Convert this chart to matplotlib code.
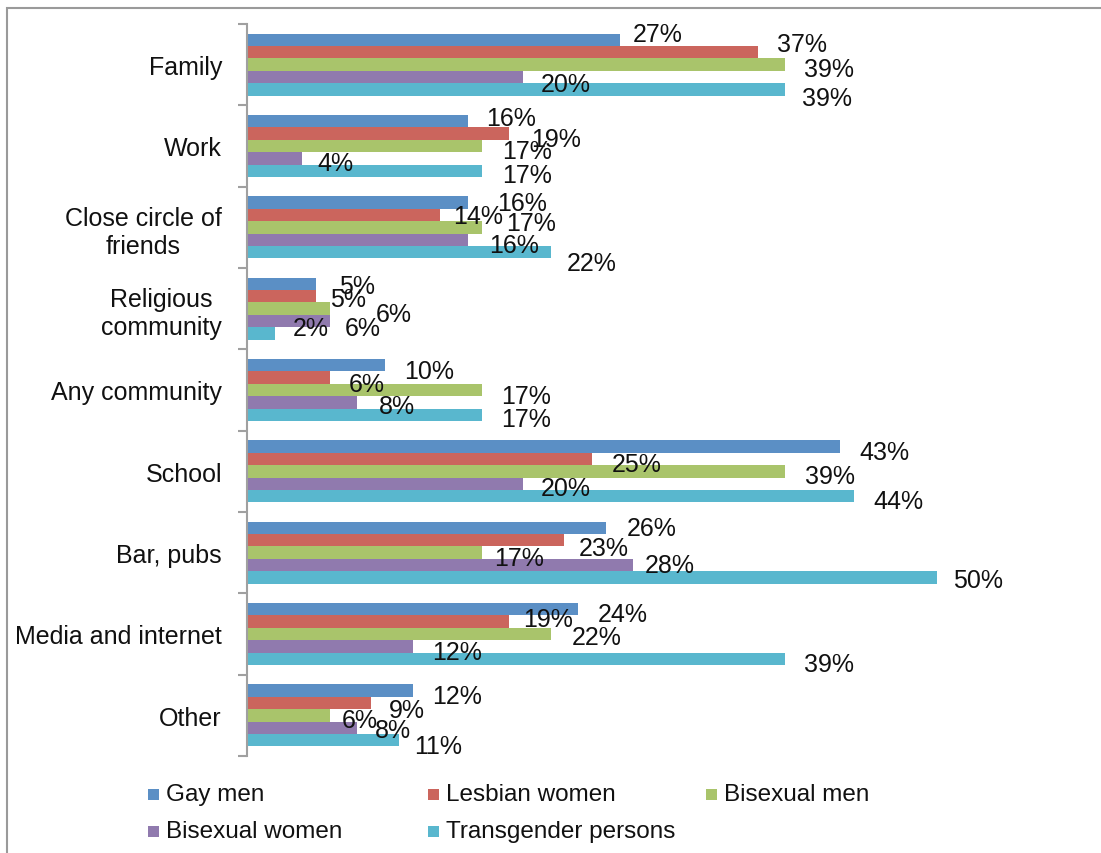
import matplotlib
matplotlib.use("Agg")
import matplotlib.pyplot as plt
from matplotlib.patches import Rectangle
import numpy as np

plt.rcParams["font.family"] = ["Liberation Sans", "DejaVu Sans"]

# ---- data -------------------------------------------------------------
categories = [
    "Family",
    "Work",
    "Close circle of\nfriends",
    "Religious\ncommunity",
    "Any community",
    "School",
    "Bar, pubs",
    "Media and internet",
    "Other",
]
series_names = ["Gay men", "Lesbian women", "Bisexual men",
                "Bisexual women", "Transgender persons"]

gay_men = [27, 16, 16, 5, 10, 43, 26, 24, 12]
lesbian_women = [37, 19, 14, 5, 6, 25, 23, 19, 9]
bisexual_men = [39, 17, 17, 6, 17, 39, 17, 22, 6]
bisexual_women = [20, 4, 16, 6, 8, 20, 28, 12, 8]
transgender_persons = [39, 17, 22, 2, 17, 44, 50, 39, 11]

series_values = [gay_men, lesbian_women, bisexual_men,
                 bisexual_women, transgender_persons]
colors = ["#5B8FC5", "#CB655D", "#A9C46B", "#907AAE", "#59B7CE"]

# ---- label placement (pixels: gap right of bar end, downward shift) ---
label_gap = [
    [13, 19, 19, 18, 17],
    [18, 22, 21, 15, 21],
    [29, 13, 25, 21, 16],
    [23, 14, 46, 15, 18],
    [19, 19, 20, 21, 20],
    [19, 20, 20, 18, 19],
    [21, 14, 13, 11, 16],
    [20, 14, 21, 20, 19],
    [20, 18, 12, 17, 15],
]
label_shift = [
    [-8, -10, 2, 4.5, 7],
    [-5, 3, 3, 2.5, 2],
    [-2, -1, -6.5, 3, 9],
    [0, 0.5, 3, 5, -7],
    [3.5, 4, 4, 2, 2],
    [3, 3.5, 3, 2.5, 3],
    [-2, 6, 3.5, -2.5, 1],
    [3, -4.5, 1.5, 4, 3],
    [3, 5.5, 3, 0, 3.5],
]

# ---- figure -----------------------------------------------------------
W, H = 1101, 854
fig = plt.figure(figsize=(W / 100, H / 100), dpi=100)
ax = fig.add_axes([247 / W, (H - 757) / H, 759 / W, 732 / H])

ypos = np.arange(len(categories))
bar_h = 0.152
for j, (vals, color) in enumerate(zip(series_values, colors)):
    y = ypos + (j - 2) * bar_h
    ax.barh(y, vals, height=bar_h, color=color, edgecolor="none")
    for i, v in enumerate(vals):
        ax.annotate(f"{v}%", xy=(v, y[i]),
                    xytext=(label_gap[i][j], -label_shift[i][j] - 2),
                    textcoords="offset pixels", ha="left", va="center",
                    fontsize=18, color="#111111", annotation_clip=False)

ax.set_xlim(0, 55)
ax.set_ylim(len(categories) - 0.5, -0.5)

for side in ("top", "right", "bottom"):
    ax.spines[side].set_visible(False)
ax.spines["left"].set_color("#a0a0a0")
ax.spines["left"].set_linewidth(1.5)
ax.set_xticks([])

ax.set_yticks(np.arange(len(categories) + 1) - 0.5)
ax.set_yticklabels([])
ax.tick_params(axis="y", which="major", length=6.5, width=1.5,
               color="#a0a0a0", direction="out")
ax.set_yticks(ypos, minor=True)
ax.set_yticklabels(categories, minor=True, fontsize=18, color="#111111")
ax.tick_params(axis="y", which="minor", length=0, pad=18)
for lbl in ax.get_yticklabels(minor=True):
    lbl.set_multialignment("center")

# ---- legend -----------------------------------------------------------
legend_cols = [148, 428, 706]
legend_rows = [795, 832]
for k, (name, color) in enumerate(zip(series_names, colors)):
    r, c = divmod(k, 3)
    x0, yc = legend_cols[c], legend_rows[r]
    fig.add_artist(Rectangle((x0 / W, (H - yc - 6) / H), 11 / W, 11 / H,
                             transform=fig.transFigure, facecolor=color,
                             edgecolor="none"))
    fig.text((x0 + 18) / W, (H - yc) / H, name, fontsize=17.5,
             color="#111111", ha="left", va="center")

# ---- outer chart frame ------------------------------------------------
fig.add_artist(Rectangle((7 / W, -0.5), 2, (H - 9) / H + 0.5,
                         transform=fig.transFigure, fill=False,
                         edgecolor="#9a9a9a", linewidth=1.5))

fig.savefig("out.png", dpi=100, facecolor="white")
